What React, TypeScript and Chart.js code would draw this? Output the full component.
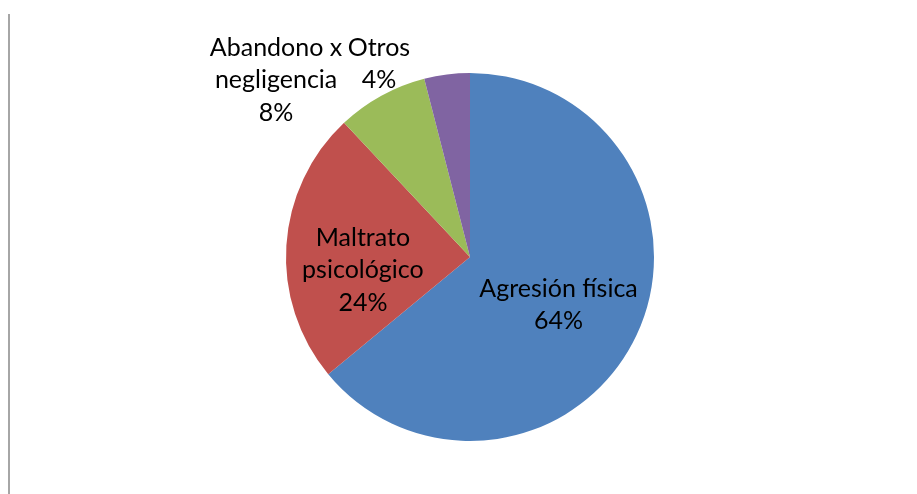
import React, { useEffect, useRef } from "react";
import { Chart, registerables } from "chart.js";

Chart.register(...registerables);

const categories = ["Agresión física", "Maltrato psicológico", "Abandono x negligencia", "Otros"];
const values = [64, 24, 8, 4];
const labelLines = [["Agresión física", "64%"], ["Maltrato", "psicológico", "24%"], ["Abandono x", "negligencia", "8%"], ["Otros", "4%"]];
const colors = ["#4F81BD", "#C0504D", "#9BBB59", "#8064A2"];
// label block centre offsets in units of the pie radius
const labelOffsets = [[0.481, 0.261], [-0.582, 0.071], [-1.054, -0.962], [-0.495, -1.049]];

const FONT = "25px Lato, 'Liberation Sans', sans-serif";
const LINE_H = 32.5;

const labelPlugin = {
  id: "labelPlugin",
  afterDraw(chart: any) {
    const ctx = chart.ctx;
    ctx.save();
    // left border line
    ctx.strokeStyle = "#a6a6a6";
    ctx.lineWidth = 2;
    ctx.beginPath();
    ctx.moveTo(9, 14);
    ctx.lineTo(9, chart.height);
    ctx.stroke();

    const meta = chart.getDatasetMeta(0);
    ctx.font = FONT;
    ctx.fillStyle = "#000";
    ctx.textAlign = "center";
    ctx.textBaseline = "middle";
    meta.data.forEach((arc: any, i: number) => {
      const { x, y, outerRadius } = arc.getProps(["x", "y", "outerRadius"], true);
      const cx = x + labelOffsets[i][0] * outerRadius;
      const cy = y + labelOffsets[i][1] * outerRadius;
      const lines = labelLines[i];
      const top = cy - ((lines.length - 1) * LINE_H) / 2;
      lines.forEach((t, j) => ctx.fillText(t, cx, top + j * LINE_H));
    });
    ctx.restore();
  },
};

export default function App() {
  const ref = useRef<HTMLCanvasElement>(null);
  useEffect(() => {
    const chart = new Chart(ref.current!, {
      type: "pie",
      data: {
        labels: categories,
        datasets: [{ data: values, backgroundColor: colors, borderWidth: 0 }],
      },
      options: {
        animation: false,
        responsive: false,
        layout: { padding: { left: 286, right: 263, top: 73, bottom: 53 } },
        plugins: { legend: { display: false }, tooltip: { enabled: false } },
      },
      plugins: [labelPlugin],
    });
    return () => chart.destroy();
  }, []);
  return (
    <div style={{ position: "fixed", left: 0, top: 0, width: 917, height: 494, background: "#fff" }}>
      <canvas ref={ref} width={917} height={494} />
    </div>
  );
}
